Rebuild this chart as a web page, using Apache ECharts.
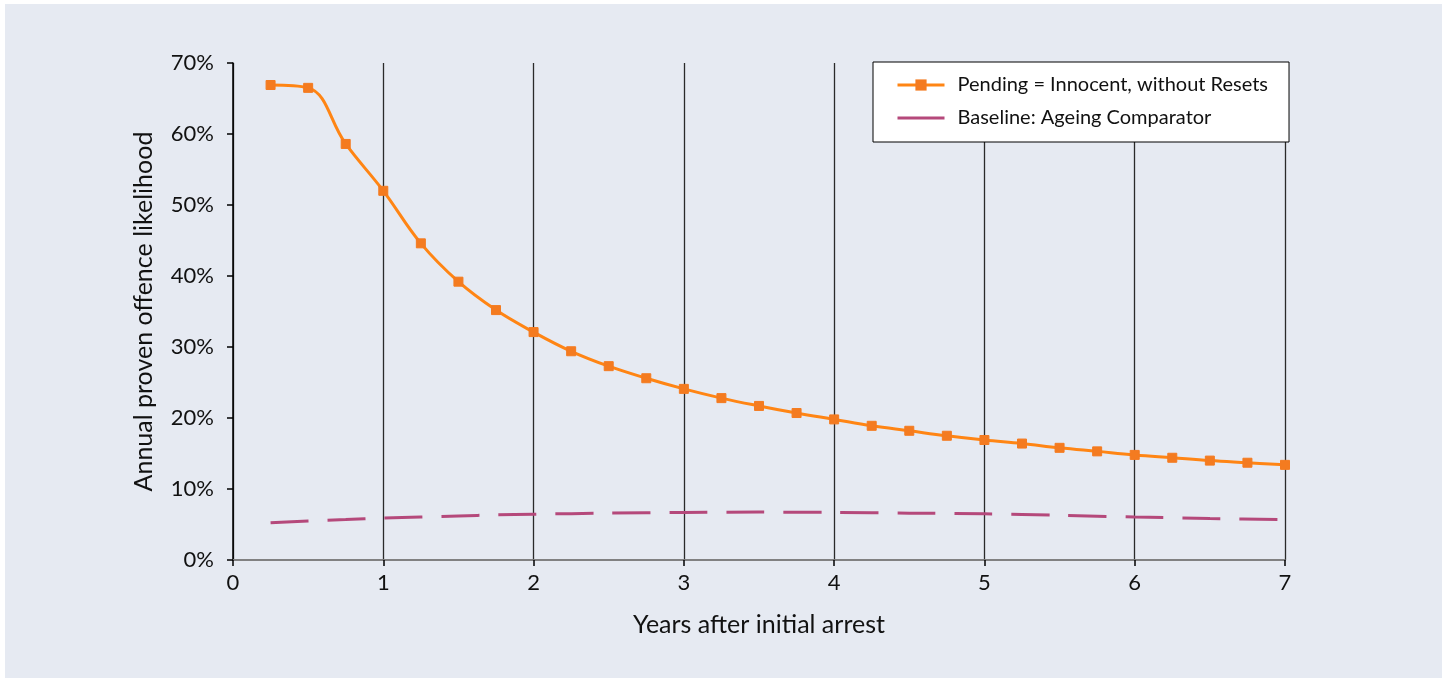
<!DOCTYPE html>
<html>
<head>
<meta charset="utf-8">
<script src="https://cdn.jsdelivr.net/npm/echarts@6/dist/echarts.min.js"></script>
<style>
html,body{margin:0;padding:0;background:#ffffff;}
#chart{width:1447px;height:678px;}
</style>
</head>
<body>
<div id="chart"></div>
<script>
// Data (percent)
var years = [0.25,0.5,0.75,1,1.25,1.5,1.75,2,2.25,2.5,2.75,3,3.25,3.5,3.75,4,4.25,4.5,4.75,5,5.25,5.5,5.75,6,6.25,6.5,6.75,7];
var pending = [66.9,66.5,58.6,52.0,44.6,39.2,35.2,32.1,29.4,27.3,25.6,24.1,22.8,21.7,20.7,19.8,18.9,18.2,17.5,16.9,16.4,15.8,15.3,14.8,14.4,14.0,13.7,13.4];
var baselineYears = [0.25,0.5,0.75,1,1.25,1.5,1.75,2,2.5,3,3.5,4,4.5,5,5.5,6,6.5,7];
var baseline = [5.25,5.5,5.7,5.9,6.05,6.2,6.35,6.45,6.6,6.7,6.75,6.7,6.6,6.5,6.3,6.05,5.85,5.7];
var seriesNames = ['Pending = Innocent, without Resets','Baseline: Ageing Comparator'];
var xTitle = 'Years after initial arrest';
var yTitle = 'Annual proven offence likelihood';

var FONT = 'Lato, "DejaVu Sans", sans-serif';
var chart = echarts.init(document.getElementById('chart'), null, {renderer:'canvas'});
var option = {
  animation: false,
  backgroundColor: '#ffffff',
  textStyle: {fontFamily: FONT},
  graphic: [{
    type: 'rect', z: -10, silent: true,
    shape: {x: 5, y: 4, width: 1437, height: 680},
    style: {fill: '#e6eaf2'}
  }],
  grid: {left: 233, right: 162, top: 63, bottom: 118, containLabel: false},
  legend: {
    orient: 'vertical',
    left: 873, top: 62,
    backgroundColor: '#ffffff',
    borderColor: '#000000',
    borderWidth: 1,
    padding: [13, 21, 14, 23],
    itemWidth: 47, itemHeight: 14, itemGap: 13,
    textStyle: {fontFamily: FONT, fontSize: 20, color: '#111', padding: [0, 0, 0, 8]},
    data: [
      {name: seriesNames[0], lineStyle: {width: 3}},
      {name: seriesNames[1], lineStyle: {type: 'solid', width: 3}, itemStyle: {opacity: 0}}
    ]
  },
  xAxis: [{
    type: 'value', min: 0, max: 7, interval: 1,
    name: xTitle, nameLocation: 'middle', nameGap: 52,
    nameTextStyle: {fontFamily: FONT, fontSize: 25, color: '#111'},
    axisLine: {show: true, onZero: false, lineStyle: {color: '#000', width: 1.5}},
    axisTick: {show: true, length: 6, lineStyle: {color: '#000', width: 1.5}},
    axisLabel: {fontFamily: FONT, fontSize: 22, color: '#111', margin: 12},
    splitLine: {show: true, lineStyle: {color: '#2a2a2a', width: 1.3}}
  }, {
    type: 'value', position: 'top', min: 0, max: 7, interval: 1,
    axisLine: {show: true, lineStyle: {color: '#999999', width: 1.5}},
    axisTick: {show: false}, axisLabel: {show: false}, splitLine: {show: false}
  }],
  yAxis: {
    type: 'value', min: 0, max: 70, interval: 10,
    name: yTitle, nameLocation: 'middle', nameGap: 77, nameRotate: 90,
    nameTextStyle: {fontFamily: FONT, fontSize: 25, color: '#111'},
    axisLine: {show: true, lineStyle: {color: '#000', width: 1.5}},
    axisTick: {show: true, length: 6, lineStyle: {color: '#000', width: 1.5}},
    axisLabel: {fontFamily: FONT, fontSize: 22, color: '#111', margin: 19, formatter: '{value}%'},
    splitLine: {show: false}
  },
  series: [{
    name: seriesNames[0], type: 'line', smooth: 0.4,
    data: years.map(function(x,i){return [x, pending[i]];}),
    symbol: 'rect', symbolSize: 9,
    itemStyle: {color: '#f47b20', borderColor: '#f47b20'},
    lineStyle: {color: '#ff8514', width: 3},
    z: 3
  }, {
    name: seriesNames[1], type: 'line', smooth: 0.3,
    data: baselineYears.map(function(x,i){return [x, baseline[i]];}),
    symbol: 'none',
    itemStyle: {color: '#b5497b'},
    lineStyle: {color: '#b5497b', width: 3, type: [38, 19]},
    z: 2
  }]
};
chart.setOption(option);
</script>
</body>
</html>
